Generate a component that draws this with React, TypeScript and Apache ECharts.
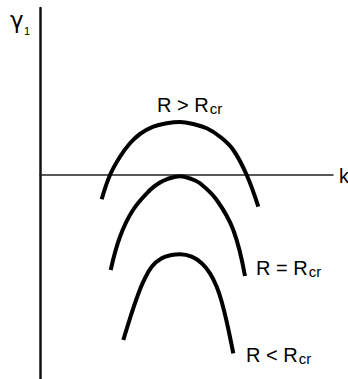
import React, { useEffect, useRef } from "react";
import * as echarts from "echarts";

// k (horizontal) and gamma_1 (vertical) values for the three curves
const curveAbove: [number, number][] = [
  [6.17, -2.43], [7.0, 0], [8.0, 1.83], [9.0, 3.17], [10.0, 4.1], [11.33, 4.83],
  [12.67, 5.17], [14.0, 5.3], [15.33, 5.1], [16.67, 4.67], [18.0, 3.83],
  [19.33, 2.5], [20.67, 0], [21.83, -3.17],
];
const curveCritical: [number, number][] = [
  [7.07, -9.5], [8.0, -6.17], [9.3, -3.5], [11.0, -1.5], [12.0, -0.75], [12.67, -0.43],
  [14.0, -0.12], [15.0, -0.35], [16.0, -0.83], [17.67, -2.5], [19.33, -5.5], [20.5, -10.1],
];
const curveBelow: [number, number][] = [
  [8.33, -16.5], [9.0, -14.33], [9.67, -12.33], [10.33, -10.67], [11.17, -9.17],
  [12.17, -8.33], [13.17, -8.0], [14.0, -7.93], [15.17, -8.17], [16.17, -8.83],
  [17.0, -9.83], [17.67, -11.17], [18.17, -12.67], [18.67, -14.67], [19.33, -17.83],
];
const seriesNames = ["R>Rcr", "R=Rcr", "R<Rcr"];
const xName = "k";
const yName = "γ";
const ySub = "1";

const FONT = "'Liberation Sans', Arial, sans-serif";

export default function App() {
  const ref = useRef<HTMLDivElement>(null);
  useEffect(() => {
    if (!ref.current) return;
    const chart = echarts.init(ref.current, null, { renderer: "svg" });
    const lineStyle = { color: "#000", width: 4 };
    const rich = {
      m: { fontSize: 20, fontFamily: FONT, color: "#000" },
      s: { fontSize: 15, fontFamily: FONT, color: "#000", verticalAlign: "bottom" as const, padding: [7, 0, 0, 1] },
    };
    chart.setOption({
      animation: false,
      backgroundColor: "#fff",
      grid: { left: 40, right: 15, top: 8, bottom: 0, containLabel: false },
      xAxis: {
        type: "value",
        min: 0,
        max: 29.3,
        axisLine: { onZero: true, lineStyle: { color: "#222", width: 1.5 } },
        axisTick: { show: false },
        axisLabel: { show: false },
        splitLine: { show: false },
      },
      yAxis: {
        type: "value",
        min: -20.4,
        max: 16.7,
        axisLine: { show: true, onZero: true, lineStyle: { color: "#111", width: 2.5 } },
        axisTick: { show: false },
        axisLabel: { show: false },
        splitLine: { show: false },
      },
      series: [
        { name: seriesNames[0], type: "line", smooth: 0.4, showSymbol: false, data: curveAbove, lineStyle, silent: true },
        { name: seriesNames[1], type: "line", smooth: 0.4, showSymbol: false, data: curveCritical, lineStyle, silent: true },
        { name: seriesNames[2], type: "line", smooth: 0.4, showSymbol: false, data: curveBelow, lineStyle, silent: true },
      ],
      graphic: [
        {
          type: "text", left: 10, top: 8,
          style: { text: yName, fontSize: 23, fontFamily: "'DejaVu Sans', sans-serif", fill: "#000" },
        },
        {
          type: "text", left: 24, top: 25,
          style: { text: ySub, fontSize: 11, fontFamily: FONT, fill: "#000" },
        },
        {
          type: "text", left: 339, top: 166,
          style: { text: xName, fontSize: 20, fontFamily: FONT, fill: "#000" },
        },
        {
          type: "text", left: 157, top: 95,
          style: { text: "{m|R}{m| > }{m|R}{s|cr}", rich, fill: "#000" },
        },
        {
          type: "text", left: 256, top: 258,
          style: { text: "{m|R}{m| = }{m|R}{s|cr}", rich, fill: "#000" },
        },
        {
          type: "text", left: 246, top: 345,
          style: { text: "{m|R}{m| < }{m|R}{s|cr}", rich, fill: "#000" },
        },
      ],
    });
    return () => chart.dispose();
  }, []);
  return (
    <div
      ref={ref}
      style={{ position: "fixed", left: 0, top: 0, width: 348, height: 379, background: "#fff" }}
    />
  );
}
